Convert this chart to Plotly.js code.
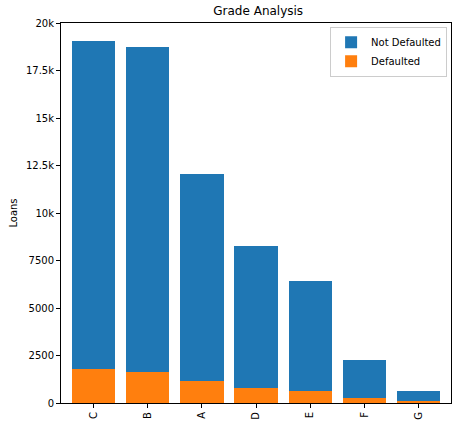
<!DOCTYPE html>
<html>
<head>
<meta charset="utf-8">
<script src="https://cdn.plot.ly/plotly-3.0.1.min.js"></script>
<style>body{margin:0;background:#fff}</style>
</head>
<body>
<div id="chart" style="width:457px;height:425px"></div>
<script>
// grades sorted by loan count
const grades = ['C', 'B', 'A', 'D', 'E', 'F', 'G'];
const totalLoans = [19050, 18740, 12050, 8260, 6420, 2260, 630];
const defaulted = [1790, 1630, 1160, 790, 630, 260, 100];
const notDefaulted = totalLoans.map((t, i) => t - defaulted[i]);

const defaultedTrace = {
  x: grades,
  y: defaulted,
  name: 'Defaulted',
  type: 'bar',
  width: 0.8,
  marker: {color: '#ff7f0e'}
};
const notDefaultedTrace = {
  x: grades,
  y: notDefaulted,
  name: 'Not Defaulted',
  type: 'bar',
  width: 0.8,
  marker: {color: '#1f77b4'}
};

const axisStyle = {
  showline: true,
  mirror: true,
  linecolor: '#000',
  linewidth: 1,
  ticks: 'outside',
  ticklen: 4,
  tickcolor: '#000',
  showgrid: false,
  zeroline: false
};

const layout = {
  barmode: 'stack',
  width: 457,
  height: 425,
  margin: {l: 61, r: 6, t: 23, b: 22},
  paper_bgcolor: '#fff',
  plot_bgcolor: '#fff',
  font: {family: 'DejaVu Sans', size: 10, color: '#000'},
  title: {text: 'Grade Analysis', font: {size: 12}, x: 0.565, y: 0.985, yanchor: 'top'},
  bargap: 0.2,
  xaxis: Object.assign({}, axisStyle, {tickangle: -90, range: [-0.6, 6.6]}),
  yaxis: Object.assign({}, axisStyle, {
    range: [0, 20000],
    tickvals: [0, 2500, 5000, 7500, 10000, 12500, 15000, 17500, 20000],
    title: {text: 'Loans', font: {size: 10}, standoff: 6}
  }),
  legend: {
    x: 0.99, y: 0.99, xanchor: 'right', yanchor: 'top',
    traceorder: 'reversed',
    bordercolor: '#ccc', borderwidth: 1,
    bgcolor: 'rgba(255,255,255,0.8)',
    font: {size: 10}
  }
};

Plotly.newPlot('chart', [defaultedTrace, notDefaultedTrace], layout, {displayModeBar: false});
</script>
</body>
</html>
